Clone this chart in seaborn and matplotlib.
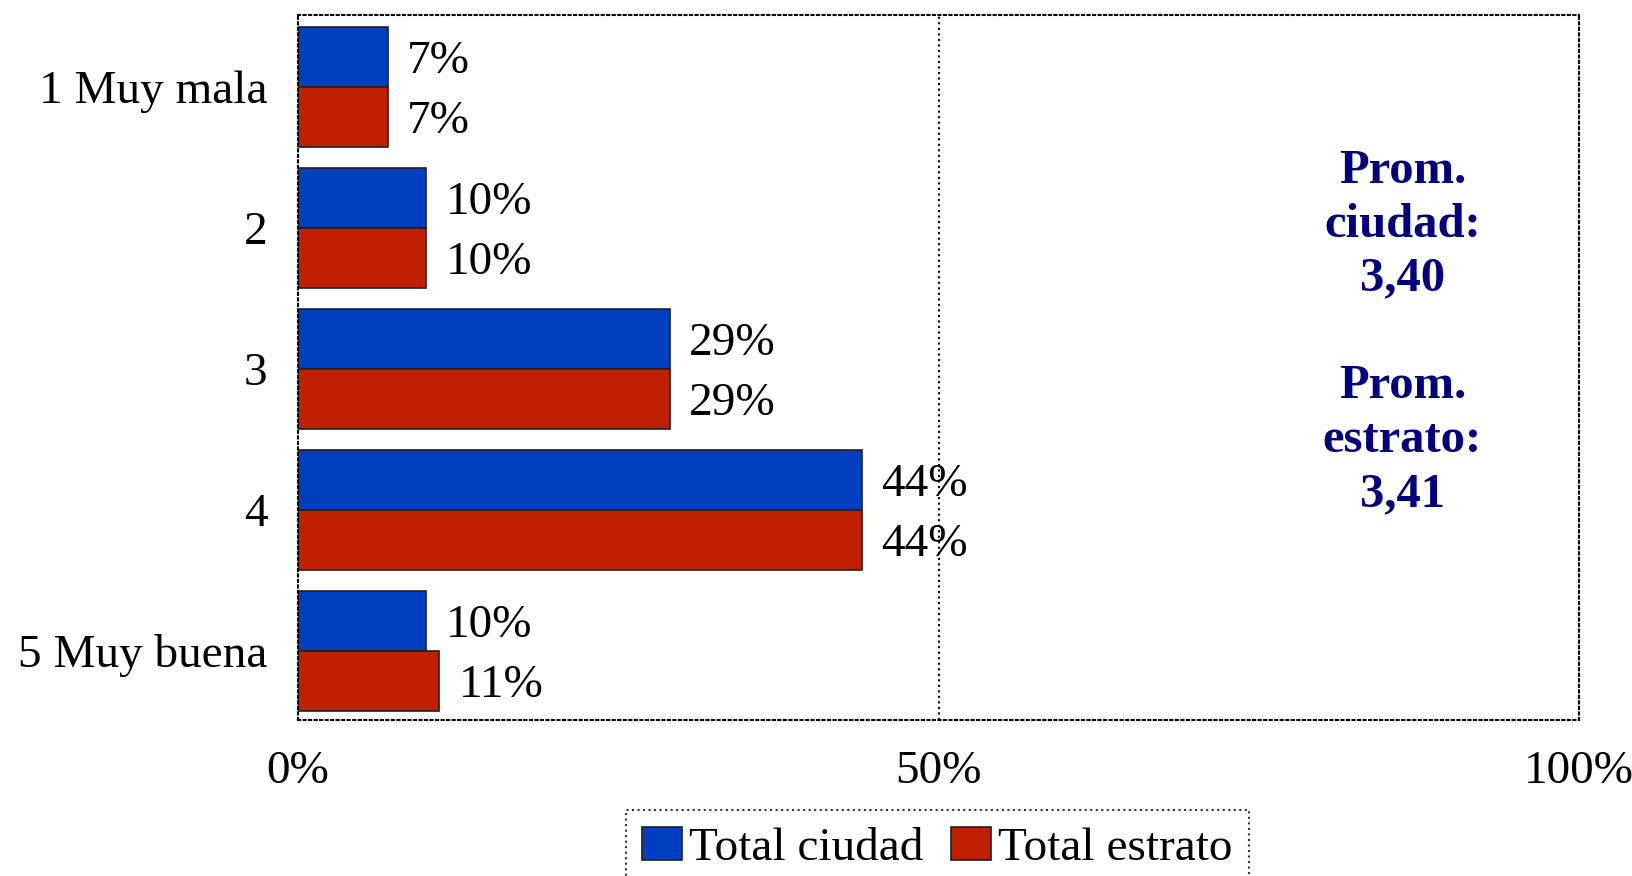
import matplotlib
matplotlib.use("Agg")
import matplotlib.pyplot as plt
import seaborn as sns
import pandas as pd

categories = ["1 Muy mala", "2", "3", "4", "5 Muy buena"]
total_ciudad = [7, 10, 29, 44, 10]
total_estrato = [7, 10, 29, 44, 11]
series_names = ["Total ciudad", "Total estrato"]
x_ticks = [0, 50, 100]
x_tick_labels = ["0%", "50%", "100%"]
prom_text = "Prom.\nciudad:\n3,40\n\nProm.\nestrato:\n3,41"

df = pd.DataFrame({
    "cat": categories * 2,
    "val": total_ciudad + total_estrato,
    "serie": [series_names[0]] * len(categories) + [series_names[1]] * len(categories),
})

sns.set_theme(style="white")
plt.rcParams["font.family"] = ["Liberation Serif", "DejaVu Serif"]
plt.rcParams["text.color"] = "black"
plt.rcParams["xtick.color"] = "black"
plt.rcParams["ytick.color"] = "black"

FS = 34

fig = plt.figure(figsize=(16.33, 8.76), dpi=100)
ax = fig.add_axes([0.1825, 0.178, 0.7845, 0.805])

palette = {"Total ciudad": "#0040C0", "Total estrato": "#C02000"}
sns.barplot(data=df, y="cat", x="val", hue="serie", order=categories,
            hue_order=series_names, palette=palette, orient="h",
            width=0.85, dodge=True, saturation=1, ax=ax,
            edgecolor="#202020", linewidth=1.2)

for cont in ax.containers:
    texts = ax.bar_label(cont, labels=[f"{int(v)}%" for v in cont.datavalues],
                         padding=14, fontsize=FS, color="black")
    for t in texts:
        t.set_va("center_baseline")

ax.set_xlim(0, 100)
ax.set_ylim(4.49, -0.51)
ax.set_xticks(x_ticks)
ax.set_xticklabels(x_tick_labels, fontsize=FS, color="black")
ax.tick_params(axis="x", length=0, pad=22, labelcolor="black")
ax.tick_params(axis="y", length=0, pad=22, labelsize=FS, labelcolor="black")
ax.set_xlabel("")
ax.set_ylabel("")
ax.axvline(50, color="black", linestyle=":", linewidth=1.5, zorder=0.5)
for s in ax.spines.values():
    s.set_visible(True)
    s.set_color("black")
    s.set_linestyle(":")
    s.set_linewidth(1.5)

ax.text(0.862, 0.55, prom_text, transform=ax.transAxes, ha="center", va="center",
        fontsize=35, fontweight="bold", color="#000080", linespacing=1.29)

handles, labels = ax.get_legend_handles_labels()
ax.get_legend().remove()
leg = fig.legend(handles, labels, loc="upper center", bbox_to_anchor=(0.574, 0.075),
                 ncol=2, fontsize=FS, frameon=True, fancybox=False,
                 handlelength=0.83, handleheight=0.7, handletextpad=0.15,
                 columnspacing=0.6, borderpad=0.35, borderaxespad=0)
leg.get_frame().set_edgecolor("black")
leg.get_frame().set_linestyle(":")
leg.get_frame().set_linewidth(1.5)

fig.savefig("out.png", dpi=100)
